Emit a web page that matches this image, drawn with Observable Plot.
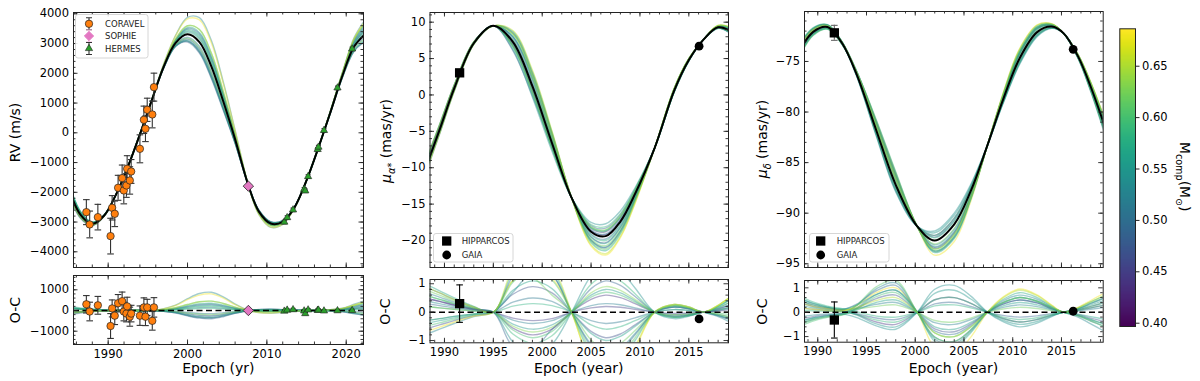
<!DOCTYPE html>
<html><head><meta charset="utf-8">
<script src="https://cdn.jsdelivr.net/npm/d3@7"></script>
<script src="https://cdn.jsdelivr.net/npm/@observablehq/plot@0.6"></script>
<style>
body{margin:0;background:#fff;}
#wrap{position:relative;width:1200px;height:381px;font-family:"DejaVu Sans",sans-serif;}
#wrap svg{position:absolute;left:0;top:0;}
</style></head><body><div id="wrap"></div>
<script>
// ================= DATA =================
const massDomain = [0.397, 0.686];
const cbTicks = [0.40, 0.45, 0.50, 0.55, 0.60, 0.65];

// ---- Left: radial velocity ----
const rvKnots = [1985, 1986.5, 1988, 1989.5, 1991, 1992.5, 1994, 1995.5, 1997, 1998.5, 2000, 2001.5, 2003, 2004.5, 2006, 2007.7, 2009, 2010.5, 2012, 2013.5, 2015, 2016.5, 2018, 2019.5, 2021, 2022.5];
const rvBest = [-1850, -2750, -3060, -2780, -2070, -1130, -50, 1100, 2220, 3020, 3310, 3050, 2230, 1060, -220, -1790, -2650, -3050, -2990, -2500, -1600, -500, 680, 1900, 2900, 3350];
const rvMasses = [0.44, 0.47, 0.49, 0.51, 0.52, 0.53, 0.54, 0.55, 0.57, 0.58, 0.60, 0.62, 0.68, 0.50, 0.56, 0.59, 0.65];
const rvResid = [
  [-150,-90,-45,-15,0,5,0,0,-35,-105,-230,-325,-350,-260,-120,0,40,50,35,10,0,-5,-20,-60,-150,-250],
  [120,70,35,10,0,-5,0,0,-25,-75,-160,-230,-250,-190,-90,0,30,40,25,5,0,5,15,35,90,150],
  [-200,-120,-60,-20,0,5,0,0,-40,-120,-260,-370,-400,-300,-140,0,50,60,40,10,0,-5,-10,-25,-60,-100],
  [100,60,30,10,0,0,0,0,-15,-45,-100,-140,-150,-110,-50,0,20,25,15,5,0,5,20,45,120,200],
  [-100,-60,-30,-10,0,0,0,0,15,45,100,140,150,110,50,0,-20,-25,-15,-5,0,0,10,25,60,100],
  [150,90,45,15,0,-5,0,0,90,260,570,820,880,660,310,0,-100,-130,-90,-25,0,10,40,110,300,500],
  [150,90,45,15,0,-5,0,0,-30,-90,-200,-280,-300,-220,-100,0,35,45,30,10,0,-5,-15,-45,-120,-200],
  [-150,-90,-45,-15,0,5,0,0,25,75,165,230,250,190,90,0,-30,-40,-25,-5,0,5,25,55,150,250],
  [200,120,60,20,0,-5,0,0,35,105,230,325,350,260,120,0,-40,-50,-35,-10,0,10,30,75,210,350],
  [-50,-30,-15,-5,0,0,0,0,10,30,65,95,100,75,35,0,-12,-15,-10,-3,0,0,5,10,30,50],
  [100,60,30,10,0,0,0,0,45,135,290,420,450,340,160,0,-55,-65,-45,-15,0,10,35,85,240,400],
  [-100,-60,-30,-10,0,0,0,0,-20,-60,-130,-185,-200,-150,-70,0,25,30,20,5,0,-5,-10,-30,-90,-150],
  [-50,-30,-15,-5,0,0,0,0,80,240,520,745,800,600,280,0,-95,-120,-80,-25,0,10,40,100,270,450],
  [-100,-60,-30,-10,0,0,0,0,30,90,195,280,300,225,105,0,-35,-45,-30,-10,0,5,25,65,180,300],
  [100,60,30,10,0,0,0,0,-35,-105,-230,-325,-350,-260,-120,0,40,50,35,10,0,-5,-20,-55,-150,-250],
  [150,90,45,15,0,0,0,0,20,60,130,185,200,150,70,0,-25,-30,-20,-5,0,5,10,35,90,150],
  [-150,-90,-45,-15,0,0,0,0,45,135,290,420,450,340,160,0,-55,-65,-45,-15,0,10,30,90,240,400]
];
const coravelT   = [1987.25, 1987.67, 1988.7, 1990.3, 1990.5, 1990.83, 1991.25, 1991.76, 1991.97, 1992.3, 1992.39, 1992.73, 1992.9, 1994.0, 1994.5, 1994.7, 1994.92, 1995.56, 1995.77];
const coravelRV  = [-2667, -3081, -2835, -3473, -2521, -2723, -1849, -1524, -1938, -1770, -1210, -1602, -1300, -538, 437, 134, 773, 616, 1535];
const coravelErr = [420, 450, 430, 600, 410, 430, 420, 440, 450, 400, 440, 460, 400, 470, 460, 430, 390, 450, 470];
const coravelOC  = [300, -50, 250, -750, 100, -250, 350, 450, -50, -150, 200, -300, -150, -250, 150, -300, 150, -500, 150];
const sophieT = [2007.67], sophieRV = [-1793], sophieErr = [60], sophieOC = [0];
const hermesT   = [2012.2, 2012.56, 2013.3, 2014.7, 2014.84, 2015.2, 2016.4, 2016.5, 2017.2, 2018.9, 2020.75];
const hermesRV  = [-3000, -2850, -2590, -1900, -1950, -1470, -560, -480, 80, 1510, 2820];
const hermesErr = [60, 60, 60, 60, 60, 60, 60, 60, 60, 60, 60];
const hermesOC  = [-30, 20, 40, -20, -150, 30, 10, 20, -20, -10, 0];

// ---- Middle: proper motion in RA ----
const muaKnots = [1988, 1989.5, 1991, 1993, 1995, 1997, 1999, 2001, 2003, 2005, 2006.5, 2008, 2009.5, 2011.5, 2013.5, 2015, 2016.5, 2018, 2019.5];
const muaBest  = [-10.3, -4.8, 0.9, 7.1, 9.5, 7.3, 1.2, -6.6, -14.1, -18.8, -19.4, -17.4, -13.6, -7.3, 0.6, 4.8, 7.6, 9.3, 8.6];
const muaMasses = [0.44, 0.47, 0.49, 0.51, 0.52, 0.53, 0.55, 0.56, 0.58, 0.60, 0.62, 0.68, 0.50, 0.54, 0.57, 0.59, 0.61, 0.63, 0.66, 0.45];
const muaResid = [
  [0.5,0.38,0.25,0.1,0,-0.56,-0.8,-0.6,0,0.45,0.6,0.51,0.3,0,-0.14,-0.09,0,0.08,0.2],
  [-0.6,-0.45,-0.3,-0.12,0,0.63,0.9,0.68,0,-0.68,-0.9,-0.77,-0.45,0,0.18,0.12,0,-0.12,-0.3],
  [0.3,0.23,0.15,0.06,0,-1.2,-1.3,-0.6,0,0.83,1.1,0.94,0.55,0,-0.18,-0.12,0,0.12,0.3],
  [-0.3,-0.23,-0.15,-0.06,0,0.35,0.5,0.38,0,-0.3,-0.4,-0.34,-0.2,0,0.09,0.06,0,-0.08,-0.2],
  [0.7,0.53,0.35,0.14,0,-0.28,-0.4,-0.3,0,0.23,0.3,0.26,0.15,0,-0.09,-0.06,0,0.16,0.4],
  [-0.8,-0.6,-0.4,-0.16,0,0.7,1.4,1.3,0,-1.13,-1.5,-1.28,-0.75,0,0.23,0.15,0,-0.16,-0.4],
  [0.2,0.15,0.1,0.04,0,-0.42,-0.6,-0.45,0,0.6,0.8,0.68,0.4,0,-0.14,-0.09,0,0.06,0.15],
  [-0.4,-0.3,-0.2,-0.08,0,0.77,1.1,0.83,0,-0.75,-1.0,-0.85,-0.5,0,0.18,0.12,0,-0.1,-0.25],
  [0.6,0.45,0.3,0.12,0,0.21,0.3,0.23,0,-0.45,-0.6,-0.51,-0.3,0,0.09,0.06,0,0.2,0.5],
  [-0.5,-0.38,-0.25,-0.1,0,-0.63,-0.9,-0.68,0,0.53,0.7,0.6,0.35,0,-0.18,-0.12,0,-0.04,-0.1],
  [0.8,0.6,0.4,0.16,0,1.1,1.2,0.6,0,-0.98,-1.3,-1.1,-0.65,0,0.23,0.15,0,0.24,0.6],
  [-0.7,-0.53,-0.35,-0.14,0,1.12,1.6,1.2,0,-1.95,-2.6,-2.2,-1.3,0,0.27,0.18,0,0.24,0.6],
  [0.9,0.68,0.45,0.18,0,1.26,1.8,1.35,0,-1.2,-1.6,-1.36,-0.8,0,0.18,0.12,0,0.12,0.3],
  [0.4,0.3,0.2,0.08,0,-1.05,-1.5,-1.13,0,1.28,1.7,1.45,0.85,0,-0.23,-0.15,0,-0.12,-0.3],
  [1.0,0.75,0.5,0.2,0,1.4,2.0,1.5,0,-1.5,-2.0,-1.7,-1.0,0,0.27,0.18,0,0.2,0.5],
  [-0.3,-0.23,-0.15,-0.06,0,-0.77,-1.1,-0.83,0,0.98,1.3,1.1,0.65,0,-0.18,-0.12,0,0.08,0.2],
  [0.6,0.45,0.3,0.12,0,1.05,1.5,1.13,0,-1.35,-1.8,-1.53,-0.9,0,0.23,0.15,0,0.16,0.4],
  [0.2,0.15,0.1,0.04,0,-0.49,-0.7,-0.53,0,0.68,0.9,0.77,0.45,0,-0.09,-0.06,0,-0.08,-0.2],
  [0.9,0.68,0.45,0.18,0,1.54,2.2,1.65,0,-1.8,-2.4,-2.04,-1.2,0,0.27,0.18,0,0.24,0.6],
  [0.5,0.38,0.25,0.1,0,-0.21,-0.3,-0.23,0,0.15,0.2,0.17,0.1,0,-0.05,-0.03,0,0.04,0.1]
];
const hipMuaT = [1991.55], hipMua = [3.04], hipMuaErr = [0.66], hipMuaOC = [0.30];
const gaiaMuaT = [2016.05], gaiaMua = [6.7], gaiaMuaErr = [0.05], gaiaMuaOC = [-0.24];

// ---- Right: proper motion in Dec ----
const mudKnots = [1988, 1989.5, 1991, 1992.5, 1994, 1996, 1998, 2000.2, 2002, 2004, 2005.7, 2007.4, 2009, 2010.7, 2012.5, 2014, 2015.2, 2016.7, 2018, 2019.5];
const mudBest  = [-74.2, -72.1, -71.6, -73.2, -76.3, -81.8, -87.2, -91.3, -92.7, -91.1, -87.8, -83.3, -78.8, -74.7, -72.1, -71.55, -72.2, -74.5, -77.5, -81.6];
const mudMasses = [0.44, 0.47, 0.49, 0.51, 0.52, 0.53, 0.55, 0.56, 0.58, 0.60, 0.62, 0.68, 0.50, 0.54, 0.57, 0.59, 0.61, 0.65];
const mudResid = [
  [0.4,0.24,0.14,0.08,-0.09,-0.4,-0.5,0,0.51,0.6,0.36,0,-0.26,-0.4,-0.3,-0.12,0,0.08,0.18,0.3],
  [-0.3,-0.18,-0.11,-0.06,0.15,0.56,0.7,0,-0.68,-0.8,-0.48,0,0.33,0.5,0.38,0.15,0,-0.1,-0.24,-0.4],
  [0.2,0.12,0.07,0.04,-0.06,-0.24,-0.3,0,0.34,0.4,0.24,0,-0.13,-0.2,-0.15,-0.06,0,0.15,0.36,0.6],
  [-0.5,-0.3,-0.18,-0.1,0.18,0.72,0.9,0,-1.02,-1.2,-0.72,0,0.39,0.6,0.45,0.18,0,-0.15,-0.36,-0.6],
  [0.6,0.36,0.21,0.12,0.16,0.32,0.4,0,-0.43,-0.5,-0.3,0,0.2,0.3,0.23,0.09,0,0.05,0.12,0.2],
  [-0.2,-0.12,-0.07,-0.04,0.28,0.96,1.2,0,-1.1,-1.3,-0.78,0,0.46,0.7,0.53,0.21,0,-0.2,-0.48,-0.8],
  [0.3,0.18,0.11,0.06,-0.12,-0.48,-0.6,0,0.77,0.9,0.54,0,-0.33,-0.5,-0.38,-0.15,0,0.13,0.3,0.5],
  [-0.4,-0.24,-0.14,-0.08,0.09,0.4,0.5,0,-0.6,-0.7,-0.42,0,0.26,0.4,0.3,0.12,0,-0.08,-0.18,-0.3],
  [0.7,0.42,0.25,0.14,0.02,-0.16,-0.2,0,0.26,0.3,0.18,0,-0.2,-0.3,-0.23,-0.09,0,0.18,0.42,0.7],
  [-0.6,-0.36,-0.21,-0.12,0.14,0.64,0.8,0,-0.85,-1.0,-0.6,0,0.39,0.6,0.45,0.18,0,-0.13,-0.3,-0.5],
  [0.5,0.3,0.18,0.1,0.13,0.24,0.3,0,-0.34,-0.4,-0.24,0,0.13,0.2,0.15,0.06,0,0.1,0.24,0.4],
  [0.2,0.12,0.07,0.04,0.27,0.8,1.0,0,-1.45,-1.7,-1.02,0,0.62,0.95,0.71,0.29,0,0.2,0.48,0.8],
  [0.5,0.3,0.18,0.1,0.33,0.88,1.1,0,-0.77,-0.9,-0.54,0,0.33,0.5,0.38,0.15,0,0.1,0.24,0.4],
  [-0.4,-0.24,-0.14,-0.08,-0.22,-0.56,-0.7,0,0.94,1.1,0.66,0,-0.39,-0.6,-0.45,-0.18,0,-0.13,-0.3,-0.5],
  [0.6,0.36,0.21,0.12,0.29,0.72,0.9,0,-1.19,-1.4,-0.84,0,0.52,0.8,0.6,0.24,0,0.15,0.36,0.6],
  [0.1,0.06,0.04,0.02,-0.09,-0.32,-0.4,0,0.51,0.6,0.36,0,-0.26,-0.4,-0.3,-0.12,0,0.08,0.18,0.3],
  [-0.5,-0.3,-0.18,-0.1,0.28,1.04,1.3,0,-1.02,-1.2,-0.72,0,0.39,0.6,0.45,0.18,0,-0.15,-0.36,-0.6],
  [0.4,0.24,0.14,0.08,0.19,0.48,0.6,0,-0.85,-1.0,-0.6,0,0.59,0.9,0.68,0.27,0,0.18,0.42,0.7]
];
const hipMudT = [1991.7], hipMud = [-72.17], hipMudErr = [0.74], hipMudOC = [-0.32];
const gaiaMudT = [2016.2], gaiaMud = [-73.8], gaiaMudErr = [0.05], gaiaMudOC = [0.04];

// ================= HELPERS =================
const W = 1200, H = 381;
const FONT = "DejaVu Sans";
const cap = {draw(ctx, size){const r = Math.sqrt(size/Math.PI); ctx.moveTo(-r,0); ctx.lineTo(r,0);}};
const tri = {draw(ctx, size){const r = Math.sqrt(size/Math.PI); ctx.moveTo(0,-r); ctx.lineTo(0.866*r,0.5*r); ctx.lineTo(-0.866*r,0.5*r); ctx.closePath();}};
const dia = {draw(ctx, size){const r = Math.sqrt(size/Math.PI); ctx.moveTo(0,-r); ctx.lineTo(r,0); ctx.lineTo(0,r); ctx.lineTo(-r,0); ctx.closePath();}};

const toRows = (T, V, E) => T.map((t, i) => ({t, v: V[i], e: E[i]}));
function sampleRows(knots, best, masses, resid, addBest){
  const rows = [];
  masses.forEach((m, j) => knots.forEach((t, i) => rows.push({id: j, m, t, v: (addBest ? best[i] : 0) + resid[j][i]})));
  return rows;
}
function errMarks(rows, color, capR = 3.3){
  return [
    Plot.ruleX(rows, {x: "t", y1: d => d.v - d.e, y2: d => d.v + d.e, stroke: color, strokeWidth: 1.1}),
    Plot.dot(rows, {x: "t", y: d => d.v - d.e, symbol: cap, r: capR, stroke: color, strokeWidth: 1.1, fill: "none"}),
    Plot.dot(rows, {x: "t", y: d => d.v + d.e, symbol: cap, r: capR, stroke: color, strokeWidth: 1.1, fill: "none"})
  ];
}
function sampleLines(rows){
  return Plot.line(rows, {x: "t", y: "v", z: "id", stroke: "m", strokeOpacity: 0.42, strokeWidth: 1.4, curve: "catmull-rom", clip: true});
}
function panel(cfg){
  const [x0, x1, y0, y1] = cfg.box;
  const fw = x1 - x0, fh = y1 - y0;
  const tk = {stroke: "#222", strokeWidth: 0.9};
  const marks = [
    ...cfg.marks,
    Plot.tickX(cfg.xMajor, {x: d => d, insetTop: fh - 4.5, ...tk}),
    Plot.tickX(cfg.xMajor, {x: d => d, insetBottom: fh - 4.5, ...tk}),
    Plot.tickX(cfg.xMinor, {x: d => d, insetTop: fh - 2.5, ...tk}),
    Plot.tickX(cfg.xMinor, {x: d => d, insetBottom: fh - 2.5, ...tk}),
    Plot.tickY(cfg.yMajor, {y: d => d, insetRight: fw - 4.5, ...tk}),
    Plot.tickY(cfg.yMajor, {y: d => d, insetLeft: fw - 4.5, ...tk}),
    Plot.tickY(cfg.yMinor, {y: d => d, insetRight: fw - 2.5, ...tk}),
    Plot.tickY(cfg.yMinor, {y: d => d, insetLeft: fw - 2.5, ...tk}),
    Plot.axisY(cfg.yMajor, {anchor: "left", tickSize: 0, tickPadding: 4.5, tickFormat: cfg.yFmt, fontSize: 11.5, label: null, fill: "#000"}),
    cfg.xLabels ? Plot.axisX(cfg.xMajor, {anchor: "bottom", tickSize: 0, tickPadding: 5, tickFormat: d3.format("d"), fontSize: 11.5, label: null, fill: "#000"}) : null,
    Plot.frame({stroke: "#222", strokeWidth: 1})
  ];
  return Plot.plot({
    width: W, height: H,
    marginLeft: x0, marginRight: W - x1, marginTop: y0, marginBottom: H - y1,
    x: {domain: cfg.xd, axis: null},
    y: {domain: cfg.yd, axis: null},
    color: {type: "linear", scheme: "viridis", domain: massDomain},
    style: {background: "transparent", fontFamily: FONT, fontSize: "11.5px", color: "#000"},
    marks
  });
}

const wrap = document.getElementById("wrap");
const fmtD = d3.format("d");

// ---- Left top (RV) ----
const coravel = toRows(coravelT, coravelRV, coravelErr);
const sophie = toRows(sophieT, sophieRV, sophieErr);
const hermes = toRows(hermesT, hermesRV, hermesErr);
wrap.append(panel({
  box: [73, 363, 12, 267], xd: [1985.63, 2022.18], yd: [-4528, 4044],
  xMajor: [1990, 2000, 2010, 2020], xMinor: d3.range(1986, 2023, 2),
  yMajor: d3.range(-4000, 4001, 1000), yMinor: d3.range(-4400, 4001, 200), yFmt: fmtD, xLabels: false,
  marks: [
    sampleLines(sampleRows(rvKnots, rvBest, rvMasses, rvResid, true)),
    Plot.line(rvKnots.map((t, i) => ({t, v: rvBest[i]})), {x: "t", y: "v", stroke: "#000", strokeWidth: 2, curve: "catmull-rom", clip: true}),
    ...errMarks(coravel, "#333"),
    Plot.dot(coravel, {x: "t", y: "v", r: 3.7, fill: "#ff7f0e", stroke: "#222", strokeWidth: 0.7}),
    ...errMarks(hermes, "#333", 2.5),
    Plot.dot(hermes, {x: "t", y: "v", symbol: tri, r: 4.2, fill: "#2ca02c", stroke: "#222", strokeWidth: 0.6}),
    Plot.dot(sophie, {x: "t", y: "v", symbol: dia, r: 5.2, fill: "#e377c2", stroke: "#222", strokeWidth: 0.8})
  ]
}));
// ---- Left bottom (O-C) ----
const coravelR = toRows(coravelT, coravelOC, coravelErr);
const sophieR = toRows(sophieT, sophieOC, sophieErr);
const hermesR = toRows(hermesT, hermesOC, hermesErr);
wrap.append(panel({
  box: [73, 363, 275, 344], xd: [1985.63, 2022.18], yd: [-1643, 1690],
  xMajor: [1990, 2000, 2010, 2020], xMinor: d3.range(1986, 2023, 2),
  yMajor: [-1000, 0, 1000], yMinor: d3.range(-1600, 1700, 200), yFmt: fmtD, xLabels: true,
  marks: [
    sampleLines(sampleRows(rvKnots, rvBest, rvMasses, rvResid, false)),
    Plot.ruleY([0], {stroke: "#000", strokeWidth: 1.5, strokeDasharray: "6,3.5"}),
    ...errMarks(coravelR, "#333"),
    Plot.dot(coravelR, {x: "t", y: "v", r: 3.7, fill: "#ff7f0e", stroke: "#222", strokeWidth: 0.7}),
    ...errMarks(hermesR, "#333", 2.5),
    Plot.dot(hermesR, {x: "t", y: "v", symbol: tri, r: 4.2, fill: "#2ca02c", stroke: "#222", strokeWidth: 0.6}),
    Plot.dot(sophieR, {x: "t", y: "v", symbol: dia, r: 5.2, fill: "#e377c2", stroke: "#222", strokeWidth: 0.8})
  ]
}));

// ---- Middle ----
const hipA = toRows(hipMuaT, hipMua, hipMuaErr), gaiaA = toRows(gaiaMuaT, gaiaMua, gaiaMuaErr);
const hipAR = toRows(hipMuaT, hipMuaOC, hipMuaErr), gaiaAR = toRows(gaiaMuaT, gaiaMuaOC, gaiaMuaErr);
wrap.append(panel({
  box: [429.5, 728, 12, 267], xd: [1988.52, 2019.06], yd: [-23.71, 11.33],
  xMajor: [1990, 1995, 2000, 2005, 2010, 2015], xMinor: d3.range(1989, 2020, 1),
  yMajor: [-20, -15, -10, -5, 0, 5, 10], yMinor: d3.range(-23, 12, 1), yFmt: fmtD, xLabels: false,
  marks: [
    sampleLines(sampleRows(muaKnots, muaBest, muaMasses, muaResid, true)),
    Plot.line(muaKnots.map((t, i) => ({t, v: muaBest[i]})), {x: "t", y: "v", stroke: "#000", strokeWidth: 2, curve: "catmull-rom", clip: true}),
    Plot.dot(hipA, {x: "t", y: "v", symbol: "square", r: 5.25, fill: "#000"}),
    Plot.dot(gaiaA, {x: "t", y: "v", r: 4.4, fill: "#000"})
  ]
}));
wrap.append(panel({
  box: [429.5, 728, 279, 342.3], xd: [1988.52, 2019.06], yd: [-1.08, 1.15],
  xMajor: [1990, 1995, 2000, 2005, 2010, 2015], xMinor: d3.range(1989, 2020, 1),
  yMajor: [-1, 0, 1], yMinor: [-0.8, -0.6, -0.4, -0.2, 0.2, 0.4, 0.6, 0.8], yFmt: fmtD, xLabels: true,
  marks: [
    sampleLines(sampleRows(muaKnots, muaBest, muaMasses, muaResid, false)),
    Plot.ruleY([0], {stroke: "#000", strokeWidth: 1.5, strokeDasharray: "6,3.5"}),
    ...errMarks(hipAR, "#000"),
    Plot.dot(hipAR, {x: "t", y: "v", symbol: "square", r: 5.25, fill: "#000"}),
    Plot.dot(gaiaAR, {x: "t", y: "v", r: 4.4, fill: "#000"})
  ]
}));

// ---- Right ----
const hipD = toRows(hipMudT, hipMud, hipMudErr), gaiaD = toRows(gaiaMudT, gaiaMud, gaiaMudErr);
const hipDR = toRows(hipMudT, hipMudOC, hipMudErr), gaiaDR = toRows(gaiaMudT, gaiaMudOC, gaiaMudErr);
wrap.append(panel({
  box: [804, 1102.7, 11, 267], xd: [1988.64, 2019.28], yd: [-95.37, -70.06],
  xMajor: [1990, 1995, 2000, 2005, 2010, 2015], xMinor: d3.range(1989, 2020, 1),
  yMajor: [-95, -90, -85, -80, -75], yMinor: d3.range(-95, -70, 1), yFmt: fmtD, xLabels: false,
  marks: [
    sampleLines(sampleRows(mudKnots, mudBest, mudMasses, mudResid, true)),
    Plot.line(mudKnots.map((t, i) => ({t, v: mudBest[i]})), {x: "t", y: "v", stroke: "#000", strokeWidth: 2, curve: "catmull-rom", clip: true}),
    ...errMarks(hipD, "#666"),
    Plot.dot(hipD, {x: "t", y: "v", symbol: "square", r: 5.25, fill: "#000"}),
    Plot.dot(gaiaD, {x: "t", y: "v", r: 4.4, fill: "#000"})
  ]
}));
wrap.append(panel({
  box: [804, 1102.7, 280, 341.7], xd: [1988.64, 2019.28], yd: [-1.23, 1.3],
  xMajor: [1990, 1995, 2000, 2005, 2010, 2015], xMinor: d3.range(1989, 2020, 1),
  yMajor: [-1, 0, 1], yMinor: [-0.8, -0.6, -0.4, -0.2, 0.2, 0.4, 0.6, 0.8], yFmt: fmtD, xLabels: true,
  marks: [
    sampleLines(sampleRows(mudKnots, mudBest, mudMasses, mudResid, false)),
    Plot.ruleY([0], {stroke: "#000", strokeWidth: 1.5, strokeDasharray: "6,3.5"}),
    ...errMarks(hipDR, "#000"),
    Plot.dot(hipDR, {x: "t", y: "v", symbol: "square", r: 5.25, fill: "#000"}),
    Plot.dot(gaiaDR, {x: "t", y: "v", r: 4.4, fill: "#000"})
  ]
}));

// ---- Colorbar ----
wrap.append(Plot.plot({
  width: W, height: H, marginLeft: 1119.3, marginRight: W - 1135, marginTop: 28.3, marginBottom: H - 326,
  x: {domain: [0, 1], axis: null}, y: {domain: [0.3968, 0.6864], axis: null},
  color: {type: "linear", scheme: "viridis", domain: massDomain},
  style: {background: "transparent", fontFamily: FONT, fontSize: "11.5px", color: "#000"},
  marks: [
    Plot.raster({fill: (x, y) => y, x1: 0, x2: 1, y1: 0.3968, y2: 0.6864, width: 2, height: 300, imageRendering: "auto"}),
    Plot.axisY(cbTicks, {anchor: "right", tickSize: 3.5, tickPadding: 3, tickFormat: d3.format(".2f"), fontSize: 11.5, label: null, fill: "#000", stroke: "#222"}),
    Plot.frame({stroke: "#222", strokeWidth: 1})
  ]
}));

// ---- Overlay: axis titles and legends ----
const ov = d3.select(wrap).append("svg").attr("width", W).attr("height", H)
  .style("font-family", FONT).style("pointer-events", "none");
function rotLabel(x, y, parts, rot = -90, size = 14){
  const t = ov.append("text").attr("transform", `translate(${x},${y}) rotate(${rot})`)
    .attr("text-anchor", "middle").attr("dominant-baseline", "central").attr("font-size", size).attr("fill", "#000");
  parts.forEach(p => {
    const s = t.append("tspan").text(p.t);
    if (p.sub) s.attr("baseline-shift", "sub").attr("font-size", size * 0.7);
    if (p.it) s.attr("font-style", "italic");
  });
}
function xLabel(x, text){
  ov.append("text").attr("x", x).attr("y", 373).attr("text-anchor", "middle").attr("font-size", 14).attr("fill", "#000").text(text);
}
rotLabel(15.3, 132.5, [{t: "RV (m/s)"}]);
rotLabel(14.5, 310, [{t: "O-C"}]);
rotLabel(385.5, 141, [{t: "μ", it: true}, {t: "α*", sub: true, it: true}, {t: " (mas/yr)"}]);
rotLabel(385, 311.7, [{t: "O-C"}]);
rotLabel(762, 139, [{t: "μ", it: true}, {t: "δ", sub: true, it: true}, {t: " (mas/yr)"}]);
rotLabel(761.5, 311.7, [{t: "O-C"}]);
rotLabel(1185, 176.7, [{t: "M"}, {t: "comp", sub: true}, {t: "(M"}, {t: "⊙", sub: true}, {t: ")"}], 90, 13.8);
xLabel(218.3, "Epoch (yr)");
xLabel(578.8, "Epoch (year)");
xLabel(953.4, "Epoch (year)");

function legendBox(x, y, w, h){
  ov.append("rect").attr("x", x).attr("y", y).attr("width", w).attr("height", h).attr("rx", 2.5)
    .attr("fill", "#fff").attr("fill-opacity", 0.85).attr("stroke", "#ccc").attr("stroke-width", 0.8);
}
function legText(x, y, s){
  ov.append("text").attr("x", x).attr("y", y).attr("dominant-baseline", "central").attr("font-size", 8.5).attr("fill", "#222").text(s);
}
function legErr(x, y, h, color){
  ov.append("path").attr("d", `M${x},${y-h}V${y+h}M${x-3},${y-h}H${x+3}M${x-3},${y+h}H${x+3}`).attr("stroke", color).attr("stroke-width", 1.1).attr("fill", "none");
}
function symPath(sym, r){ return d3.symbol(sym, Math.PI * r * r)(); }
// left legend
legendBox(75.5, 14.5, 72.5, 43.5);
legErr(89, 23.8, 6, "#333");
ov.append("circle").attr("cx", 89).attr("cy", 23.8).attr("r", 3.7).attr("fill", "#ff7f0e").attr("stroke", "#222").attr("stroke-width", 0.7);
legText(105, 23.8, "CORAVEL");
legErr(89, 36, 6, "#f4b6dc");
ov.append("path").attr("d", symPath(dia, 4.6)).attr("transform", "translate(89,36)").attr("fill", "#e377c2").attr("stroke", "#e377c2");
legText(105, 36, "SOPHIE");
legErr(89, 48.5, 6, "#333");
ov.append("path").attr("d", symPath(tri, 4.2)).attr("transform", "translate(89,48.5)").attr("fill", "#2ca02c").attr("stroke", "#222").attr("stroke-width", 0.6);
legText(105, 48.5, "HERMES");
// middle & right legends
[[433.5, 446.7, 461.7], [809.5, 820.7, 836.7]].forEach(([bx, mx, tx]) => {
  legendBox(bx, 233.5, 79.5, 28.5);
  ov.append("path").attr("d", symPath(d3.symbolSquare, 5.25)).attr("transform", `translate(${mx},241)`).attr("fill", "#000");
  legText(tx, 241, "HIPPARCOS");
  ov.append("circle").attr("cx", mx).attr("cy", 255).attr("r", 4.4).attr("fill", "#000");
  legText(tx, 255, "GAIA");
});
</script>
</body></html>
